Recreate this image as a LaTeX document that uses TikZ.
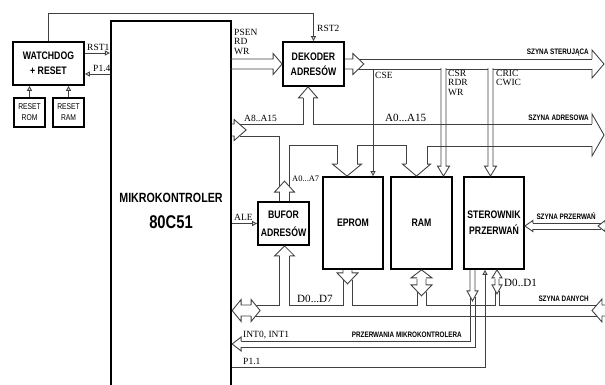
\documentclass[tikz,border=0pt]{standalone}
\usepackage{fontspec}
\setmainfont{Liberation Serif}
\newfontfamily\blkfont[FakeStretch=0.8]{Liberation Sans}
\usetikzlibrary{arrows.meta,calc}

\begin{document}
\begin{tikzpicture}[x=0.02cm, y=-0.02cm,
    block/.style={rectangle, draw, line width=1pt, align=center, inner sep=1pt,
        font=\blkfont\bfseries\fontsize{6.2}{8.5}\selectfont},
    rstbox/.style={rectangle, draw, line width=1pt, align=center, inner sep=0.5pt,
        minimum width=0.62cm, minimum height=0.58cm, font=\blkfont\fontsize{4.8}{6.2}\selectfont},
    bus/.style={line width=0.5pt, black!75},
    sig/.style={line width=0.5pt, black!75, -{Triangle[open, length=2.8pt, width=2.8pt]}},
    lbl/.style={inner sep=0.5pt, font=\fontsize{5.4}{5.4}\selectfont},
    biglbl/.style={inner sep=0.5pt, font=\fontsize{6.3}{7}\selectfont},
    buslbl/.style={inner sep=0.5pt, font=\blkfont\bfseries\fontsize{4.5}{5}\selectfont},
    pics/hhead/.style n args={4}{code={
        \fill[white] (0,0) -- (-#3,#1) -- (-#3,-#1) -- cycle;
        \draw[bus] (-#3-#4,#2) -- (-#3,#2) -- (-#3,#1) -- (0,0) -- (-#3,-#1) -- (-#3,-#2) -- (-#3-#4,-#2);
    }}
]
    \useasboundingbox (0,0) rectangle (605,385);
    % blocks
    \node[block, minimum width=1.42cm, minimum height=0.86cm] (wd) at (48.5,63.5) {WATCHDOG\\+ RESET};
    \node[rstbox] (rrom) at (29.5,112.5) {RESET\\ROM};
    \node[rstbox] (rram) at (68.5,112.5) {RESET\\RAM};
    \node[block, line width=1.3pt, minimum width=2.4cm, minimum height=7.58cm,
        font=\blkfont\bfseries\fontsize{7.6}{14.8}\selectfont] (mcu) at (171,210.5)
        {MIKROKONTROLER\\{\fontsize{10.5}{12}\selectfont 80C51}};
    \node[block, minimum width=1.22cm, minimum height=0.88cm] (dek) at (313.5,64) {DEKODER\\ADRESÓW};
    \node[block, minimum width=1.02cm, minimum height=0.86cm,
        font=\blkfont\bfseries\fontsize{6.2}{10}\selectfont] (buf) at (283.5,223.5) {BUFOR\\ADRESÓW};
    \node[block, minimum width=1.2cm, minimum height=1.84cm] (eprom) at (353,223) {EPROM};
    \node[block, minimum width=1.22cm, minimum height=1.84cm] (ram) at (421.5,223) {RAM};
    \node[block, minimum width=1.2cm, minimum height=1.84cm,
        font=\blkfont\bfseries\fontsize{6.2}{9}\selectfont] (ster) at (494,223) {STEROWNIK\\PRZERWAŃ};

    % single signals
    \draw[sig] (wd.north) -- (wd.north |- 0,13) -| (dek.north);
    \draw[sig] (wd.east |- 0,53) -- (mcu.west |- 0,53);
    \draw[sig] (mcu.west |- 0,74) -- (wd.east |- 0,74);
    \draw[sig] (rrom.north) -- (rrom.north |- wd.south);
    \draw[sig] (rram.north) -- (rram.north |- wd.south);
    \draw[sig] (mcu.east |- buf.west) -- (buf.west);
    \draw[sig] (mcu.east |- 0,367) -| (ster.south -| 485,0);
    \draw[sig] (373,69) -- (eprom.north -| 373,0);

    % control bus
    \draw[bus] (355,59) -- (592,59);
    \draw[bus] (355,69) -- (441,69) (446,69) -- (488,69) (493,69) -- (592,69);
    \pic at (dek.west) {hhead={10.5}{5}{9}{43}};
    \pic at ($(dek.east)+(19,0)$) {hhead={10.5}{5}{11}{8}};
    \pic at (604,64) {hhead={14}{5}{12}{0}};
    \pic[rotate=-90] at (ram.north -| 443.5,0) {hhead={6}{2.5}{10}{98}};
    \pic[rotate=-90] at (ster.north -| 490.5,0) {hhead={6}{2.5}{10}{98}};

    % address bus
    \draw[bus] (240,124) -| (303,97);
    \draw[bus] (313,97) |- (592,124);
    \draw[bus] (240,136) -| (279.5,189);
    \draw[bus] (289.5,189) |- (337,145) -- (337,165);
    \draw[bus] (357,165) |- (406,145) -- (406,165);
    \draw[bus] (427,165) |- (592,146);
    \pic at ($(mcu.east |- 0,130)+(14,0)$) {hhead={10.5}{6}{12}{2}};
    \pic[rotate=90] at (dek.south -| 308,0) {hhead={9.5}{5}{11}{0}};
    \pic[rotate=90] at ($(buf.north -| 284.5,0)+(0,-20)$) {hhead={10}{5}{11}{9}};
    \pic[rotate=-90] at (eprom.north -| 347,0) {hhead={14.5}{10}{12}{0}};
    \pic[rotate=-90] at (ram.north -| 416.5,0) {hhead={14}{10.5}{12}{0}};
    \pic at (604,135) {hhead={21}{11}{12}{0}};

    % data bus
    \draw[bus] (256,305) -| (279.5,255);
    \draw[bus] (289.5,255) |- (343,305) -- (343,280);
    \draw[bus] (352,280) |- (417,305) -- (417,292);
    \draw[bus] (426,292) |- (495,305) -- (495,291);
    \draw[bus] (499,291) |- (598,305);
    \draw[bus] (252,316) -- (598,316);
    \pic[rotate=180] at (mcu.east |- 0,310.5) {hhead={11}{5.5}{9}{10}};
    \pic at ($(mcu.east |- 0,310.5)+(28,0)$) {hhead={11}{5.5}{9}{0}};
    \pic[rotate=90] at (buf.south -| 284.5,0) {hhead={10}{5}{10}{0}};
    \pic[rotate=-90] at ($(eprom.south -| 347.5,0)+(0,14)$) {hhead={10.5}{4.5}{11}{3}};
    \pic[rotate=90] at (ram.south -| 421.5,0) {hhead={10.5}{4.5}{8}{0}};
    \pic[rotate=-90] at ($(ram.south -| 421.5,0)+(0,26)$) {hhead={10.5}{4.5}{11}{6}};
    \pic[rotate=90] at (ster.south -| 497,0) {hhead={5}{2}{8}{0}};
    \pic[rotate=-90] at ($(ster.south -| 497,0)+(0,24)$) {hhead={5}{2}{9}{6}};
    \pic[rotate=180] at (592,310.5) {hhead={11.5}{5.5}{10}{6}};

    % interrupt lines
    \draw[bus] (470,297) |- (238,341);
    \draw[bus] (475,297) |- (238,347);
    \pic[rotate=-90] at ($(ster.south -| 472.5,0)+(0,31)$) {hhead={5.5}{2.5}{10}{21}};
    \pic[rotate=180] at (mcu.east |- 0,344) {hhead={7}{3}{9}{0}};
    \draw[bus] (530,223) -- (601,223) (530,229) -- (601,229);
    \pic[rotate=180] at (ster.east |- 0,226) {hhead={5.5}{3}{8}{0}};
    \pic[rotate=180] at (598,226) {hhead={5.5}{3}{7}{6}};

    % labels
    \node[lbl, anchor=west] (lrst2) at (316,28) {RST2};
    \node[lbl, anchor=south west] (lrst1) at (86,52) {RST1};
    \node[lbl, anchor=south west] (lp14) at (92,73) {P1.4};
    \node[lbl, anchor=north west, align=left] (lpsen) at (233,28) {PSEN\\RD\\WR};
    \node[lbl, anchor=west] (lcse) at (374,75) {CSE};
    \node[lbl, anchor=north west, align=left] (lcsr) at (447,69) {CSR\\RDR\\WR};
    \node[lbl, anchor=north west, align=left] (lcric) at (495,69) {CRIC\\CWIC};
    \node[lbl, anchor=south west] (la815) at (243,123) {A8..A15};
    \node[biglbl, anchor=south west] (la015) at (384,123) {A0...A15};
    \node[lbl, anchor=west, font=\fontsize{4.8}{5}\selectfont] (la07) at (291,179) {A0...A7};
    \node[lbl, anchor=south west] (lale) at (233,222) {ALE};
    \node[biglbl, anchor=south west] (ld07) at (296,304) {D0...D7};
    \node[biglbl, anchor=west] (ld01) at (503,283) {D0..D1};
    \node[lbl, anchor=south west] (lint) at (242,340) {INT0, INT1};
    \node[lbl, anchor=south west] (lp11) at (242,366) {P1.1};
    \node[buslbl, anchor=south east] (lster) at (590,57) {SZYNA STERUJĄCA};
    \node[buslbl, anchor=south east] (ladr) at (590,122) {SZYNA ADRESOWA};
    \node[buslbl, anchor=south east] (lprz) at (597,221) {SZYNA PRZERWAŃ};
    \node[buslbl, anchor=south east] (ldan) at (590,303) {SZYNA DANYCH};
    \node[buslbl, anchor=south east] (lpm) at (463,339) {PRZERWANIA MIKROKONTROLERA};
\end{tikzpicture}
\end{document}
